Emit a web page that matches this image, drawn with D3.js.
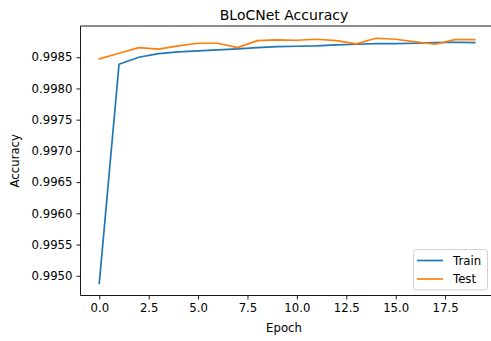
<!DOCTYPE html>
<html><head><meta charset="utf-8">
<script src="https://cdn.jsdelivr.net/npm/d3@7"></script>
<style>html,body{margin:0;padding:0;background:#fff;overflow:hidden}svg{display:block}</style>
</head><body>
<svg id="chart" width="491" height="341"></svg>
<script>
const epochs = d3.range(20);
const trainAcc = [0.99488,0.998388,0.998500,0.998558,0.998585,0.998601,0.998617,0.998633,0.998654,0.998670,0.998676,0.998681,0.998697,0.998708,0.998718,0.998718,0.998724,0.998734,0.998740,0.998734];
const testAcc = [0.998473,0.998564,0.998654,0.998630,0.998681,0.998724,0.998724,0.998654,0.998766,0.998777,0.998772,0.998788,0.998766,0.998713,0.998804,0.998788,0.998745,0.998708,0.998782,0.998782];
const xTicks = [0,2.5,5,7.5,10,12.5,15,17.5];
const yTicks = [0.9950,0.9955,0.9960,0.9965,0.9970,0.9975,0.9980,0.9985];
const seriesNames = ["Train","Test"];
const colors = ["#1f77b4","#ff7f0e"];

const svg = d3.select("#chart");
const L = 80.5, R = 493.5, T = 26, B = 295.5;
const font = "DejaVu Sans, sans-serif";
const fs = 11.7;

const x = d3.scaleLinear().domain([-0.95,19.95]).range([L,R]);
const allV = trainAcc.concat(testAcc);
const mn = d3.min(allV), mx = d3.max(allV), pad = (mx-mn)*0.05;
const y = d3.scaleLinear().domain([mn-pad, mx+pad]).range([B,T]);

// lines
const line = d3.line().x((d,i)=>x(epochs[i])).y(d=>y(d));
[trainAcc,testAcc].forEach((s,k)=>{
  svg.append("path").attr("d",line(s)).attr("fill","none")
    .attr("stroke",colors[k]).attr("stroke-width",1.7)
    .attr("stroke-linejoin","round").attr("stroke-linecap","square");
});

// axes
const xAxis = d3.axisBottom(x).tickValues(xTicks).tickFormat(d3.format(".1f")).tickSizeOuter(0).tickSize(4).tickPadding(4);
const yAxis = d3.axisLeft(y).tickValues(yTicks).tickFormat(d3.format(".4f")).tickSizeOuter(0).tickSize(4).tickPadding(4);
const gx = svg.append("g").attr("transform",`translate(0,${B})`).call(xAxis);
const gy = svg.append("g").attr("transform",`translate(${L},0)`).call(yAxis);
[gx,gy].forEach(g=>{
  g.select(".domain").remove();
  g.selectAll(".tick line").attr("stroke","#000").attr("stroke-width",0.9);
  g.selectAll(".tick text").attr("font-family",font).attr("font-size",fs).attr("fill","#000");
});

// spines
const sp = svg.append("g").attr("stroke","#000").attr("stroke-width",0.9).attr("fill","none");
sp.append("line").attr("x1",L).attr("x2",L).attr("y1",T).attr("y2",B);
sp.append("line").attr("x1",L).attr("x2",R).attr("y1",B).attr("y2",B);
sp.append("line").attr("x1",L).attr("x2",R).attr("y1",T).attr("y2",T);

// labels
svg.append("text").attr("x",(L+R)/2 - 3).attr("y",20).attr("text-anchor","middle")
  .attr("font-family",font).attr("font-size",14).text("BLoCNet Accuracy");
svg.append("text").attr("x",(L+R)/2 - 3).attr("y",332).attr("text-anchor","middle")
  .attr("font-family",font).attr("font-size",fs).text("Epoch");
svg.append("text").attr("transform",`translate(19,${(T+B)/2}) rotate(-90)`).attr("text-anchor","middle")
  .attr("font-family",font).attr("font-size",fs).text("Accuracy");

// legend
const lg = svg.append("g").attr("transform","translate(413.5,249.5)");
lg.append("rect").attr("width",74).attr("height",40.5).attr("rx",3)
  .attr("fill","#fff").attr("fill-opacity",0.8).attr("stroke","#cccccc").attr("stroke-width",0.9);
seriesNames.forEach((n,k)=>{
  const cy = 11 + k*18.5;
  lg.append("line").attr("x1",3.5).attr("x2",29.5).attr("y1",cy).attr("y2",cy)
    .attr("stroke",colors[k]).attr("stroke-width",1.7);
  lg.append("text").attr("x",39.5).attr("y",cy).attr("dy","0.35em")
    .attr("font-family",font).attr("font-size",fs).text(n);
});
</script>
</body></html>
